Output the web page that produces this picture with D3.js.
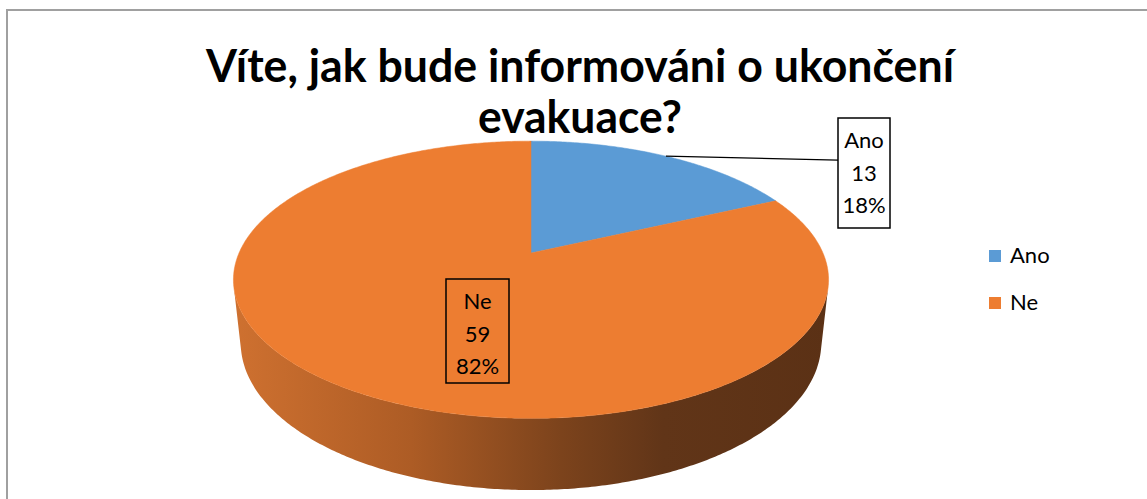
<!DOCTYPE html>
<html>
<head>
<meta charset="utf-8">
<script src="https://cdn.jsdelivr.net/npm/d3@7"></script>
<style>
  body { margin: 0; background: #fff; }
  text { font-family: Lato, "Noto Sans", sans-serif; }
</style>
</head>
<body>
<div id="chart"></div>
<script>
'use strict';

// data
var categories = ['Ano', 'Ne'];
var counts = [13, 59];
var colors = ['#5b9bd5', '#ed7d31'];
var titleLines = ['Víte, jak bude informováni o ukončení', 'evakuace?'];

var W = 1147, H = 499;

// 3d pie geometry (unit radius projected in perspective)
var pie3d = {cx: 531, cy: 253, f: 1346, dist: 4.61, tilt: 27.2 * Math.PI / 180, depth: 0.245};
pie3d.s = Math.sin(pie3d.tilt);
pie3d.c = Math.cos(pie3d.tilt);

function proj(r, a, y) {
  var x = r * Math.sin(a), z = -r * Math.cos(a);
  var d = pie3d.dist - z * pie3d.c - y * pie3d.s;
  var Y = y * pie3d.c - z * pie3d.s;
  return [pie3d.cx + pie3d.f * x / d, pie3d.cy - pie3d.f * Y / d];
}

function arcPoints(a0, a1, y) {
  var n = Math.max(2, Math.ceil(Math.abs(a1 - a0) / 0.01));
  var pts = [];
  for (var i = 0; i <= n; i++) pts.push(proj(1, a0 + (a1 - a0) * i / n, y));
  return pts;
}

var svg = d3.select('#chart').append('svg')
  .attr('width', W)
  .attr('height', H);

// frame
svg.append('path')
  .attr('d', 'M7,' + H + ' L7,10 L' + W + ',10')
  .attr('fill', 'none')
  .attr('stroke', '#a0a0a0')
  .attr('stroke-width', 2);

// title
var title = svg.append('g').attr('class', 'title');
title.selectAll('text').data(titleLines).enter()
  .append('text')
  .attr('x', 580)
  .attr('y', function(d, i){ return 82 + i * 51; })
  .attr('text-anchor', 'middle')
  .attr('font-size', 45)
  .attr('font-weight', 'bold')
  .attr('fill', '#000')
  .attr('textLength', function(d, i){ return i == 0 ? 748 : 204; })
  .attr('lengthAdjust', 'spacingAndGlyphs')
  .text(function(d){ return d; });

var total = d3.sum(counts);
var arcs = d3.pie().sort(null)(counts);

var line = d3.line();

// side wall gradient
var defs = svg.append('defs');
var grad = defs.append('linearGradient')
  .attr('id', 'sideGrad')
  .attr('gradientUnits', 'userSpaceOnUse')
  .attr('x1', pie3d.cx - 300).attr('x2', pie3d.cx + 300)
  .attr('y1', 0).attr('y2', 0);
[['0', '#cf7130'], ['0.3', '#ad5c25'], ['0.55', '#7c431c'], ['0.72', '#613518'], ['1', '#5b3115']]
  .forEach(function(st){ grad.append('stop').attr('offset', st[0]).attr('stop-color', st[1]); });

// visible part of the outer wall
var aSil = Math.acos(-1 / (pie3d.dist * pie3d.c));
var wallG = svg.append('g').attr('class', 'walls');
arcs.forEach(function(d, i){
  var a0 = Math.max(d.startAngle, aSil), a1 = Math.min(d.endAngle, 2 * Math.PI - aSil);
  if (a1 <= a0) return;
  var top = arcPoints(a0, a1, 0);
  var bot = arcPoints(a1, a0, -pie3d.depth);
  wallG.append('path')
    .attr('d', line(top.concat(bot)) + 'Z')
    .attr('fill', i == 1 ? 'url(#sideGrad)' : d3.color(colors[i]).darker(1.2));
});

// top faces
var topG = svg.append('g').attr('class', 'tops');
topG.selectAll('path').data(arcs).enter()
  .append('path')
  .attr('d', function(d){
    return line([proj(0, 0, 0)].concat(arcPoints(d.startAngle, d.endAngle, 0))) + 'Z';
  })
  .attr('fill', function(d, i){ return colors[i]; })
  .attr('stroke', function(d, i){ return colors[i]; })
  .attr('stroke-width', 0.5);

// data labels
var labelLayout = [
  {box: [838, 118, 52, 110], leader: true},
  {box: [446, 279, 63, 104], leader: false}
];
var labG = svg.append('g').attr('class', 'labels');
arcs.forEach(function(d, i){
  var L = labelLayout[i];
  var b = L.box;
  var mid = (d.startAngle + d.endAngle) / 2;
  if (L.leader) {
    var p = proj(1, mid, 0);
    labG.append('line')
      .attr('x1', p[0]).attr('y1', p[1])
      .attr('x2', b[0]).attr('y2', p[1] + 4)
      .attr('stroke', '#000').attr('stroke-width', 1.2);
  }
  labG.append('rect')
    .attr('x', b[0]).attr('y', b[1])
    .attr('width', b[2]).attr('height', b[3])
    .attr('fill', 'none')
    .attr('stroke', '#000')
    .attr('stroke-width', 1.5);
  var lines = [categories[i], counts[i], Math.round(counts[i] / total * 100) + '%'];
  labG.selectAll(null).data(lines).enter()
    .append('text')
    .attr('x', b[0] + b[2] / 2)
    .attr('y', function(t, k){ return b[1] + 30 + k * 32.5; })
    .attr('text-anchor', 'middle')
    .attr('font-size', 22)
    .attr('fill', '#000')
    .text(function(t){ return t; });
});

// legend
var legend = svg.append('g').attr('class', 'legend')
  .attr('transform', 'translate(989,250)');
var items = legend.selectAll('g').data(categories).enter()
  .append('g')
  .attr('transform', function(d, i){ return 'translate(0,' + (i * 47) + ')'; });
items.append('rect')
  .attr('width', 12).attr('height', 12)
  .attr('fill', function(d, i){ return colors[i]; });
items.append('text')
  .attr('x', 21).attr('y', 13)
  .attr('font-size', 22)
  .attr('fill', '#000')
  .text(function(d){ return d; });
</script>
</body>
</html>
